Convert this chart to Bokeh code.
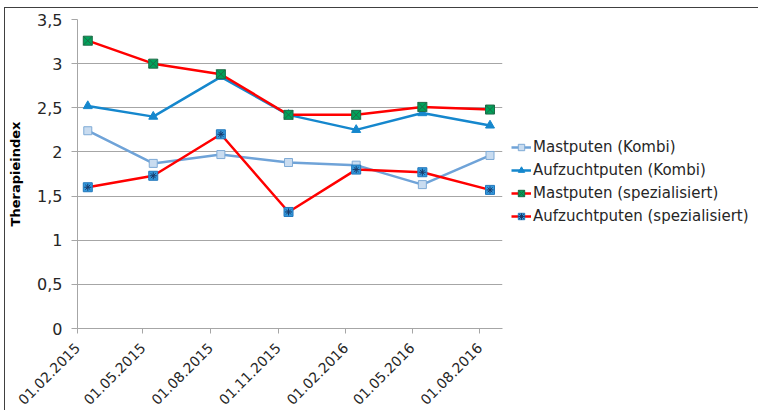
import datetime as dt
import math
from bokeh.plotting import figure
from bokeh.models import (FixedTicker, DatetimeTickFormatter, CustomJSTickFormatter,
                          Legend, LegendItem, Range1d)
from bokeh.embed import file_html
from bokeh.resources import INLINE

# ---- data ----
dates = ["2015-02-15", "2015-05-15", "2015-08-15", "2015-11-15",
         "2016-02-15", "2016-05-15", "2016-08-15"]
tick_dates = ["2015-02-01", "2015-05-01", "2015-08-01", "2015-11-01",
              "2016-02-01", "2016-05-01", "2016-08-01"]
x_start = "2015-02-01"
x_end = "2016-09-01"
y_ticks = [0, 0.5, 1, 1.5, 2, 2.5, 3, 3.5]

mastputen_kombi = [2.24, 1.87, 1.97, 1.88, 1.85, 1.63, 1.96]
aufzuchtputen_kombi = [2.52, 2.40, 2.85, 2.42, 2.25, 2.44, 2.30]
mastputen_spez = [3.26, 3.00, 2.88, 2.42, 2.42, 2.51, 2.48]
aufzuchtputen_spez = [1.60, 1.73, 2.20, 1.32, 1.80, 1.77, 1.57]

series_names = ["Mastputen (Kombi)", "Aufzuchtputen (Kombi)",
                "Mastputen (spezialisiert)", "Aufzuchtputen (spezialisiert)"]
y_title = "Therapieindex"

def to_dt(s):
    return dt.datetime.strptime(s, "%Y-%m-%d")

def to_ms(s):
    return (to_dt(s) - dt.datetime(1970, 1, 1)).total_seconds() * 1000.0

x = [to_dt(d) for d in dates]

FONT = "DejaVu Sans"

p = figure(frame_width=425, frame_height=309, x_axis_type="datetime",
           output_backend="svg", toolbar_location=None,
           x_range=Range1d(to_dt(x_start), to_dt(x_end)),
           y_range=Range1d(0, 3.5),
           min_border_left=72, min_border_right=256,
           min_border_top=11, min_border_bottom=81)
p.styles = {"margin-left": "4px", "margin-top": "7px",
            "border-top": "1px solid #404040", "border-left": "1px solid #404040"}

p.outline_line_color = None
p.background_fill_color = "white"
p.border_fill_color = "white"

# grid
p.xgrid.grid_line_color = None
p.ygrid.grid_line_color = "#a6a6a6"
p.ygrid.grid_line_width = 1

# y axis
p.yaxis.ticker = FixedTicker(ticks=y_ticks)
p.yaxis.formatter = CustomJSTickFormatter(code="return tick.toString().replace('.', ',');")
p.yaxis.axis_label = y_title
p.yaxis.axis_label_text_font = FONT
p.yaxis.axis_label_text_font_style = "bold"
p.yaxis.axis_label_text_font_size = "13px"
p.yaxis.axis_label_text_color = "#000000"
p.yaxis.axis_label_standoff = 11
p.yaxis.major_label_text_font = FONT
p.yaxis.major_label_text_font_size = "16px"
p.yaxis.major_label_text_color = "#262626"
p.yaxis.major_label_standoff = 9
p.yaxis.axis_line_color = "#a6a6a6"
p.yaxis.major_tick_line_color = "#a6a6a6"
p.yaxis.major_tick_out = 6
p.yaxis.major_tick_in = 0
p.yaxis.minor_tick_line_color = None

# x axis
p.xaxis.ticker = FixedTicker(ticks=[to_ms(t) for t in tick_dates])
fmt = "%d.%m.%Y"
p.xaxis.formatter = DatetimeTickFormatter(
    microseconds=fmt, milliseconds=fmt, seconds=fmt, minsec=fmt, minutes=fmt,
    hourmin=fmt, hours=fmt, days=fmt, months=fmt, years=fmt)
p.xaxis.major_label_orientation = math.pi / 4
p.xaxis.major_label_text_font = FONT
p.xaxis.major_label_text_font_size = "14px"
p.xaxis.major_label_text_color = "#262626"
p.xaxis.major_label_standoff = 12
p.xaxis.axis_line_color = "#a6a6a6"
p.xaxis.major_tick_line_color = "#a6a6a6"
p.xaxis.major_tick_out = 5
p.xaxis.major_tick_in = 0
p.xaxis.minor_tick_line_color = None

LW = 2.5

# Mastputen (Kombi)
l1 = p.line(x, mastputen_kombi, line_color="#6fa3d8", line_width=LW)
m1 = p.scatter(x, mastputen_kombi, marker="square", size=8,
               fill_color="#c9dcf0", line_color="#7eaad6", line_width=1)

# Aufzuchtputen (Kombi)
l2 = p.line(x, aufzuchtputen_kombi, line_color="#1587cd", line_width=LW)
m2 = p.scatter(x, aufzuchtputen_kombi, marker="triangle", size=9,
               fill_color="#1587cd", line_color="#1587cd", line_width=1)

# Mastputen (spezialisiert)
l3 = p.line(x, mastputen_spez, line_color="#ff0000", line_width=LW)
m3 = p.scatter(x, mastputen_spez, marker="square_x", size=9,
               fill_color="#00a25a", line_color="#1d6b47", line_width=1)

# Aufzuchtputen (spezialisiert)
l4 = p.line(x, aufzuchtputen_spez, line_color="#ff0000", line_width=LW)
m4 = p.scatter(x, aufzuchtputen_spez, marker="square", size=9,
               fill_color="#3399dd", line_color="#2277bb", line_width=1)
m4b = p.scatter(x, aufzuchtputen_spez, marker="asterisk", size=7,
                line_color="#1a3a6a", line_width=1)

legend = Legend(items=[
    LegendItem(label=series_names[0], renderers=[l1, m1]),
    LegendItem(label=series_names[1], renderers=[l2, m2]),
    LegendItem(label=series_names[2], renderers=[l3, m3]),
    LegendItem(label=series_names[3], renderers=[l4, m4, m4b]),
], location=(9, 103))
legend.label_text_font = FONT
legend.label_text_font_size = "15px"
legend.label_text_color = "#262626"
legend.glyph_width = 20
legend.glyph_height = 16
legend.label_height = 16
legend.spacing = 5
legend.padding = 0
legend.margin = 0
legend.label_standoff = 2
legend.border_line_alpha = 0
legend.background_fill_alpha = 0
p.add_layout(legend, "right")

open("out.html", "w").write(file_html(p, INLINE))
